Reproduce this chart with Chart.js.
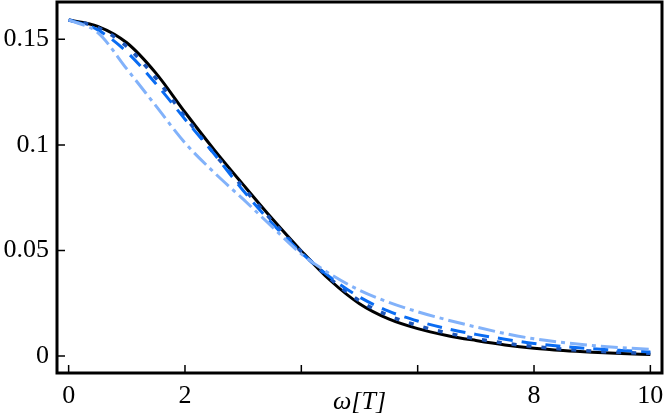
<!DOCTYPE html>
<html><head><meta charset="utf-8">
<script src="https://cdn.jsdelivr.net/npm/chart.js@4/dist/chart.umd.min.js"></script>
<style>html,body{margin:0;padding:0;background:#fff}#wrap{width:665px;height:418px;position:relative}</style>
</head><body><div id="wrap"><canvas id="c"></canvas></div>
<script>
// omega values (x)
const omega = [0,0.5,1,1.5,2,2.5,3,3.5,4,4.5,5,5.5,6,6.5,7,7.5,8,8.5,9,9.5,10];
// series values
const solidBlack = [0.1592,0.1562,0.1484,0.1340,0.1155,0.0978,0.0812,0.0650,0.0498,0.0358,0.0248,0.0176,0.0130,0.0098,0.0074,0.0053,0.0037,0.0026,0.0018,0.0012,0.0008];
const dottedBlue = [0.1592,0.1556,0.1466,0.1316,0.1134,0.0960,0.0798,0.0640,0.0494,0.0366,0.0262,0.0192,0.0145,0.0110,0.0083,0.0061,0.0045,0.0033,0.0024,0.0017,0.0013];
const dashedBlue = [0.1592,0.1545,0.1440,0.1290,0.1122,0.0958,0.0784,0.0628,0.0490,0.0373,0.0280,0.0213,0.0166,0.0130,0.0103,0.0080,0.0060,0.0046,0.0035,0.0027,0.0020];
const dashDotLight = [0.1592,0.1532,0.1360,0.1185,0.1010,0.0870,0.0743,0.0612,0.0484,0.0388,0.0312,0.0255,0.0210,0.0172,0.0138,0.0107,0.0082,0.0064,0.0050,0.0040,0.0032];
// ticks
const xTicks = [0,2,4,6,8,10];
const xTickLabels = ['0','2','','','8','10'];
const yTicks = [0,0.05,0.1,0.15];
const yTickLabels = ['0','0.05','0.1','0.15'];
const xTitle = 'ω[T]';

const pts = arr => omega.map((x,i)=>({x:x,y:arr[i]}));
const FONT = "'Liberation Serif', 'DejaVu Serif', serif";

const framePlugin = {
  id:'frame',
  afterDatasetsDraw(chart){
    const {ctx, chartArea:a, scales:{x, y}} = chart;
    ctx.save();
    ctx.strokeStyle = '#000';
    ctx.lineWidth = 1.5;
    ctx.beginPath();
    xTicks.forEach(v=>{
      const px = x.getPixelForValue(v);
      ctx.moveTo(px, a.bottom); ctx.lineTo(px, a.bottom-8);
    });
    yTicks.forEach(v=>{
      const py = y.getPixelForValue(v);
      ctx.moveTo(a.left, py); ctx.lineTo(a.left+8, py);
    });
    ctx.stroke();
    ctx.lineWidth = 3;
    ctx.strokeRect(a.left, a.top, a.right-a.left, a.bottom-a.top);
    ctx.restore();
  }
};

new Chart(document.getElementById('c'), {
  type:'line',
  data:{datasets:[
    {label:'solid', data:pts(solidBlack), borderColor:'#000000', borderWidth:3, order:4},
    {label:'dotted', data:pts(dottedBlue), borderColor:'#1d55b8', borderWidth:3.5, borderDash:[5,10], order:3},
    {label:'dashed', data:pts(dashedBlue), borderColor:'#0a6cf2', borderWidth:3, borderDash:[15,9], order:2},
    {label:'dashdot', data:pts(dashDotLight), borderColor:'#82b2fa', borderWidth:3, borderDash:[17,5,4,5], order:1}
  ]},
  options:{
    responsive:true, maintainAspectRatio:false, animation:false, devicePixelRatio:1,
    layout:{padding:{top:2,right:3,left:0,bottom:0}},
    elements:{point:{radius:0}, line:{cubicInterpolationMode:'monotone', fill:false}},
    plugins:{legend:{display:false}, tooltip:{enabled:false}},
    scales:{
      x:{type:'linear', min:-0.2, max:10.2,
        grid:{display:false, drawTicks:false}, border:{display:false},
        afterBuildTicks:s=>{s.ticks = xTicks.map(v=>({value:v}));},
        afterFit:s=>{s.height = 45; s.paddingLeft = 0; s.paddingRight = 0;},
        ticks:{autoSkip:false, maxRotation:0, padding:8, color:'#000',
          font:{family:FONT, size:26},
          callback:v=>xTickLabels[xTicks.indexOf(v)]},
        title:{display:true, text:xTitle, color:'#000', padding:0,
          font:{family:FONT, size:26, style:'italic'}}
      },
      y:{type:'linear', min:-0.008, max:0.1677,
        grid:{display:false, drawTicks:false}, border:{display:false},
        afterBuildTicks:s=>{s.ticks = yTicks.map(v=>({value:v}));},
        afterFit:s=>{s.width = 57; s.paddingTop = 0; s.paddingBottom = 0;},
        ticks:{autoSkip:false, padding:8, color:'#000',
          font:{family:FONT, size:26},
          callback:v=>yTickLabels[yTicks.indexOf(v)]}
      }
    }
  },
  plugins:[framePlugin]
});
</script></body></html>
